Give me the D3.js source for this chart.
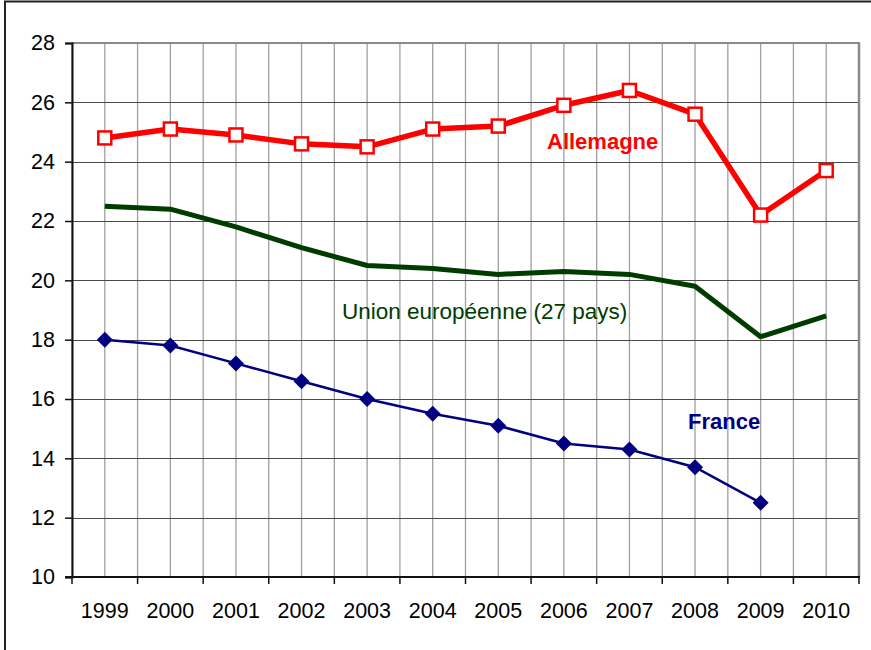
<!DOCTYPE html>
<html><head><meta charset="utf-8">
<script src="https://cdn.jsdelivr.net/npm/d3@7/dist/d3.min.js"></script>
<style>body{margin:0;background:#fff}svg{display:block;font-family:Arial,"Liberation Sans",sans-serif}</style>
</head><body>
<svg id="c" width="871" height="650"></svg>
<script>
const years = ["1999","2000","2001","2002","2003","2004","2005","2006","2007","2008","2009","2010"];
const allemagne = [24.8,25.1,24.9,24.6,24.5,25.1,25.2,25.9,26.4,25.6,22.2,23.7];
const ue27 = [22.5,22.4,21.8,21.1,20.5,20.4,20.2,20.3,20.2,19.8,18.1,18.8];
const france = [18.0,17.8,17.2,16.6,16.0,15.5,15.1,14.5,14.3,13.7,12.5,null];
const yTicks = [10,12,14,16,18,20,22,24,26,28];
const seriesLabels = {allemagne:"Allemagne", ue:"Union européenne (27 pays)", france:"France"};

const svg = d3.select("#c");
const L=72, R=859, T=43, B=577;
const x = d3.scaleBand().domain(years).range([L,R]).padding(0);
const bw = x.bandwidth();
const cx = d => x(d)+bw/2;
const y = d3.scaleLinear().domain([10,28]).range([B,T]);

// outer frame
svg.append("rect").attr("x",5).attr("y",1.5).attr("width",900).attr("height",700)
  .attr("fill","none").attr("stroke","#222").attr("stroke-width",2);

// vertical gridlines (boundaries and centers)
const vg = [];
years.forEach(yr=>{vg.push(x(yr)); vg.push(cx(yr));});
svg.append("g").selectAll("line").data(vg).join("line")
  .attr("x1",d=>d).attr("x2",d=>d).attr("y1",T).attr("y2",B)
  .attr("stroke","#a0a0a0").attr("stroke-width",1.3);
// horizontal gridlines
svg.append("g").selectAll("line").data(yTicks.filter(v=>v>10&&v<28)).join("line")
  .attr("x1",L).attr("x2",R).attr("y1",d=>Math.round(y(d))+0.5).attr("y2",d=>Math.round(y(d))+0.5)
  .attr("stroke","#4a4a4a").attr("stroke-width",1);
// top & right border of plot
svg.append("line").attr("x1",L).attr("x2",R+1).attr("y1",T).attr("y2",T).attr("stroke","#8a8a8a").attr("stroke-width",2);
svg.append("line").attr("x1",R).attr("x2",R).attr("y1",T).attr("y2",B).attr("stroke","#8a8a8a").attr("stroke-width",2.5);

// Y axis
const ya = svg.append("g").attr("transform",`translate(${L},0)`)
  .call(d3.axisLeft(y).tickValues(yTicks).tickSize(7).tickPadding(10).tickFormat(d3.format("d")));
ya.select(".domain").attr("stroke","#111").attr("stroke-width",2);
ya.selectAll(".tick line").attr("stroke","#111").attr("stroke-width",1.5);
ya.selectAll("text").attr("font-size",21.5).attr("fill","#000").attr("font-family","Arial,'Liberation Sans',sans-serif");

// X axis
const xa = svg.append("g").attr("transform",`translate(0,${B})`)
  .call(d3.axisBottom(x).tickSize(0).tickPadding(26));
xa.select(".domain").remove();
xa.selectAll("text").attr("font-size",21.5).attr("fill","#000").attr("font-family","Arial,'Liberation Sans',sans-serif");
svg.append("line").attr("x1",L-7).attr("x2",R+1).attr("y1",B).attr("y2",B).attr("stroke","#111").attr("stroke-width",2);
const bounds = years.map(d=>x(d)).concat([x(years[years.length-1])+bw]);
svg.append("g").selectAll("line").data(bounds).join("line")
  .attr("x1",d=>d).attr("x2",d=>d).attr("y1",B).attr("y2",B+7)
  .attr("stroke","#111").attr("stroke-width",1.5);

const line = d3.line().defined(d=>d.v!=null).x(d=>cx(d.yr)).y(d=>y(d.v));
const mk = arr => years.map((yr,i)=>({yr, v:arr[i]}));

// EU line
svg.append("path").datum(mk(ue27)).attr("d",line)
  .attr("fill","none").attr("stroke","#003c00").attr("stroke-width",5).attr("stroke-linejoin","round");

// France
svg.append("path").datum(mk(france)).attr("d",line)
  .attr("fill","none").attr("stroke","#000080").attr("stroke-width",2.5);
const diamond = d3.symbol().type(d3.symbolSquare).size(128);
svg.append("g").selectAll("path").data(mk(france).filter(d=>d.v!=null)).join("path")
  .attr("d",diamond).attr("transform",d=>`translate(${cx(d.yr)},${y(d.v)}) rotate(45)`)
  .attr("fill","#000080");

// Allemagne
svg.append("path").datum(mk(allemagne)).attr("d",line)
  .attr("fill","none").attr("stroke","#ff0000").attr("stroke-width",5.5).attr("stroke-linejoin","round");
svg.append("g").selectAll("rect").data(mk(allemagne)).join("rect")
  .attr("x",d=>cx(d.yr)-6.5).attr("y",d=>y(d.v)-6.5).attr("width",13).attr("height",13)
  .attr("fill","#fff").attr("stroke","#ff0000").attr("stroke-width",2.5);

// series labels
svg.append("text").attr("x",547).attr("y",149).text(seriesLabels.allemagne)
  .attr("font-size",22).attr("font-weight","bold").attr("fill","#ff0000");
svg.append("text").attr("x",342).attr("y",319).text(seriesLabels.ue)
  .attr("font-size",22.5).attr("fill","#003c00");
svg.append("text").attr("x",688).attr("y",429).text(seriesLabels.france)
  .attr("font-size",22).attr("font-weight","bold").attr("fill","#000080");
</script>
</body></html>
